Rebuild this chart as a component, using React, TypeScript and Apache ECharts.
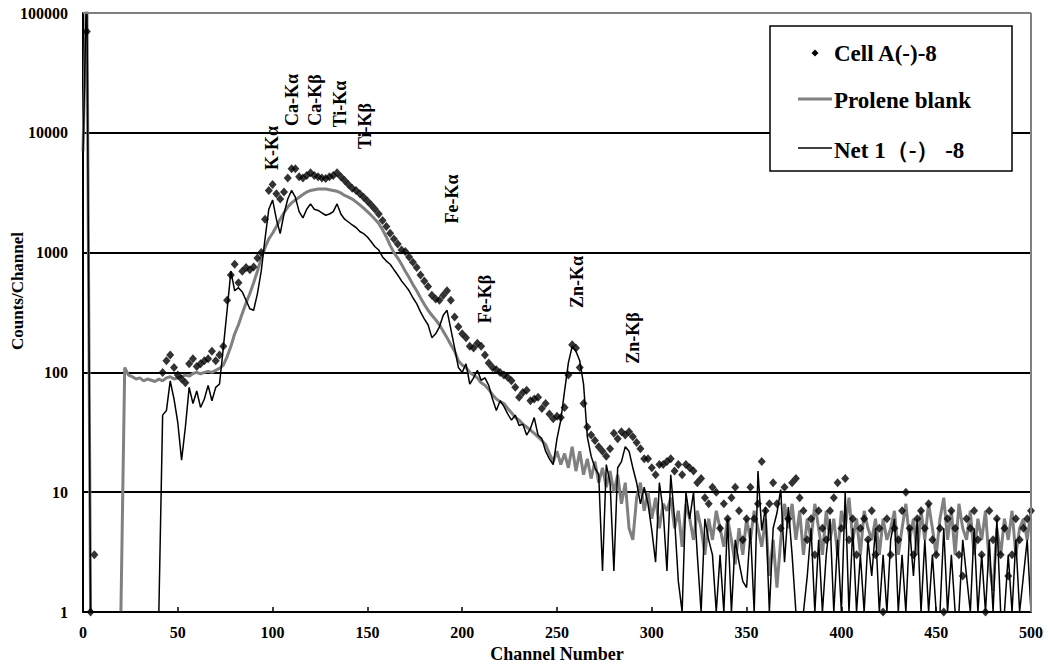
import React, { useEffect, useRef } from "react";
import * as echarts from "echarts";

// Channel step between stored values
const STEP = 2;

// Prolene blank (gray line), channels 0..500 step 2
const blank: (number | null)[] = [
  7000, 200000, 1, null, null, null, null, null, null, null,
  1, 110, 95, 92, 88, 90, 85, 88, 86, 84,
  88, 85, 90, 92, 88, 90, 92, 95, 93, 98,
  100, 97, 100, 102, 100, 104, 108, 115, 135, 165,
  210, 250, 310, 380, 455, 560, 700, 900, 1100, 1300,
  1450, 1650, 1900, 2150, 2400, 2600, 2750, 2900, 3050, 3200,
  3300, 3350, 3400, 3400, 3400, 3350, 3300, 3250, 3150, 3000,
  2900, 2800, 2650, 2500, 2350, 2200, 2050, 1900, 1750, 1550,
  1350, 1150, 1000, 900, 800, 700, 620, 540, 480, 420,
  370, 330, 300, 275, 250, 220, 195, 170, 150, 125,
  115, 110, 100, 95, 90, 82, 78, 72, 65, 60,
  57, 55, 50, 46, 42, 40, 37, 35, 33, 31,
  29, 27, 25, 21, 18, 22, 17, 21, 16, 24,
  15, 22, 14, 19, 13, 18, 12, 16, 11, 15,
  10, 14, 8, 12, 5, 4, 9, 12, 7, 10,
  6, 9, 5, 8, 7, 9, 5, 7, 3.5, 8,
  6, 4, 7, 5, 3, 6, 4, 7, 5, 3.5,
  6, 4, 2.5, 5, 3, 6, 4, 7, 5, 3.5,
  6, 2, 4, 1.6, 4, 8, 5, 8, 4, 7,
  3, 6, 4, 8, 5, 3, 7, 4, 6, 3,
  7, 5, 9, 4, 6, 3, 7, 5, 4, 6,
  3, 6, 4, 5, 7, 3, 5, 8, 4, 6,
  3, 7, 4, 8, 5, 3, 6, 9, 4, 7,
  3, 8, 5, 4, 7, 3, 6, 4, 7, 2.5,
  1.5, 5, 3, 6, 4, 7, 3, 5, 6, 4,
  7,
];

// Net 1(-)-8 (thin black line), channels 0..500 step 2
const net: (number | null)[] = [
  6500, 200000, 1, 1, 1, 1, 1, 1, 1, 1,
  1, 1, 1, 1, 1, 1, 1, 1, 1, 1,
  1, 44, 48, 85, 60, 38, 18.5, 35, 75, 55,
  70, 51, 60, 78, 58, 75, 80, 160, 330, 700,
  480, 510, 470, 400, 340, 330, 455, 700, 1300, 2300,
  2750, 1900, 1440, 2100, 2800, 3300, 2900, 2200, 1950, 2300,
  2550, 2300, 2250, 2150, 2050, 2100, 2200, 2550, 2100, 1900,
  1800, 1700, 1620, 1500, 1440, 1350, 1230, 1120, 1050, 920,
  850, 800, 720, 650, 580, 530, 480, 420, 375, 320,
  280, 250, 195, 210, 240, 300, 330, 230, 160, 110,
  100, 118, 80, 90, 104, 86, 90, 78, 60, 48,
  58, 52, 45, 40, 44, 36, 37, 30, 34, 42,
  30, 28, 22, 19, 17, 28, 40, 70, 120, 165,
  150, 125, 80, 29, 20, 16, 14, 2.2, 17, 12,
  2.2, 16, 18, 24, 22, 16, 12, 8, 11, 8,
  4.8, 2.6, 12, 7, 2.2, 14, 6, 1.8, 1, 10,
  6, 10, 3, 1, 6, 4, 3, 1, 3, 1,
  6, 1, 4, 2.6, 1.8, 1.6, 5, 1, 15, 4.8,
  7.5, 1, 5, 6.7, 10.5, 2.6, 7.5, 3, 1, 1,
  1, 2, 5, 1, 4, 1, 3, 6, 1, 4,
  1, 10, 1, 5, 1, 3, 1, 4, 2, 5,
  1, 3, 1, 4, 6, 1, 3, 1, 5, 2,
  6, 1, 4, 1, 3, 1, 1, 5, 1, 3,
  1, 1, 4, 2, 1, 5, 1, 3, 1, 4,
  1, 6, 1, 1, 3, 1, 4, 1, 2, 4,
  1,
];

// Cell A(-)-8 (black diamonds), channels 0..500 step 2
const cellA: (number | null)[] = [
  null, 70000, 1, 3, null, null, null, null, null, null,
  null, null, null, null, null, null, null, null, null, null,
  null, 100, 125, 140, 110, 95, 88, 82, 118, 130,
  112, 118, 125, 130, 150, 125, 140, 165, 400, 650,
  800, 560, 700, 750, 720, 760, 900, 1000, 1900, 3300,
  3700, 3100, 2800, 3200, 4200, 5000, 5000, 4300, 4200, 4400,
  4650, 4400, 4300, 4200, 4150, 4300, 4400, 4650, 4300, 4000,
  3700, 3450, 3300, 3100, 2900, 2700, 2500, 2300, 2100, 1850,
  1650, 1450, 1300, 1180, 1050, 1020, 920, 830, 750, 650,
  580, 520, 440, 410, 400, 440, 480, 400, 290, 240,
  210, 195, 165, 160, 175, 165, 140, 120, 110, 105,
  100, 95, 91, 85, 75, 62, 68, 71, 58, 60,
  62, 50, 55, 45, 41, 43, 42, 51, 95, 170,
  160, 110, 55, 35, 30, 27, 24, 22, 20, 23,
  31, 28, 32, 30, 32, 29, 26, 23, 19, 19,
  16, 14, 17, 17, 18, 19, 15, 17, 14, 17,
  16, 15, 12, 13, 9, 8, 11, 10, 5, 8,
  6, 9, 11, 7, 4, 6, 11, 6, 8, 18,
  7, 8, 12, 8, 5, 11, 6, 12, 13, 9,
  7, 4, 6, 3, 7, 5, 4, 7, 9, 12,
  5, 13, 4, 6, 3, 5, 6, 4, 7, 3,
  5, 1, 6, 3, 5, 4, 7, 10, 5, 3,
  6, 7, 5, 8, 4, 3, 5, 1, 6, 7,
  5, 3, 2, 6, 5, 7, 4, 3, 1, 7,
  4, 6, 3, 5, 2, 3, 6, 4, 5, 6,
  7,
];

const seriesNames = ["Cell A(-)-8", "Prolene blank", "Net 1（-） -8"];
const peakLabels = ["K-Kα", "Ca-Kα", "Ca-Kβ", "Ti-Kα", "Ti-Kβ", "Fe-Kα", "Fe-Kβ", "Zn-Kα", "Zn-Kβ"];
const xAxisTitle = "Channel Number";
const yAxisTitle = "Counts/Channel";

const FONT = "Liberation Serif, Times New Roman, serif";

export default function App() {
  const ref = useRef<HTMLDivElement>(null);

  useEffect(() => {
    document.body.style.margin = "0";
    if (!ref.current) return;
    const chart = echarts.init(ref.current, undefined, { renderer: "svg" });

    const toData = (arr: (number | null)[]) =>
      arr.map((v, i) => [i * STEP, v == null ? "-" : v]);
    const toPoints = (arr: (number | null)[]) =>
      arr.map((v, i) => [i * STEP, v]).filter((d) => d[1] != null);

    // annotation anchor positions (pixels)
    const peakPos: [number, number][] = [
      [272, 148], [292, 100], [315, 100], [340, 104], [365, 126],
      [452, 199], [485, 299], [577, 282], [633, 338],
    ];

    const txt = (size: number) => ({
      fontFamily: FONT,
      fontSize: size,
      fontWeight: "bold",
      fill: "#000",
    });

    const graphics: any[] = [
      {
        type: "line",
        z: 10,
        shape: { x1: 83, y1: 13, x2: 1031, y2: 13 },
        style: { stroke: "#808080", lineWidth: 2 },
      },
      {
        type: "line",
        z: 10,
        shape: { x1: 1031, y1: 13, x2: 1031, y2: 612 },
        style: { stroke: "#808080", lineWidth: 2 },
      },
      {
        type: "text",
        z: 20,
        x: 17,
        y: 291,
        rotation: Math.PI / 2,
        style: { text: yAxisTitle, ...txt(17), align: "center", verticalAlign: "middle" },
      },
      ...peakLabels.map((t, i) => ({
        type: "text",
        z: 20,
        x: peakPos[i][0],
        y: peakPos[i][1],
        rotation: Math.PI / 2,
        style: {
          text: t,
          ...txt(18),
          align: "center",
          verticalAlign: "middle",
        },
      })),
      {
        type: "group",
        z: 30,
        children: [
          {
            type: "rect",
            z: 30,
            shape: { x: 770, y: 26, width: 242, height: 145 },
            style: { fill: "#fff", stroke: "#000", lineWidth: 1.5 },
          },
          {
            type: "polygon",
            z: 31,
            shape: { points: [[815, 49.5], [818.5, 53], [815, 56.5], [811.5, 53]] },
            style: { fill: "#000" },
          },
          {
            type: "text",
            z: 31,
            x: 834,
            y: 53,
            style: { text: seriesNames[0], ...txt(23), verticalAlign: "middle" },
          },
          {
            type: "line",
            z: 31,
            shape: { x1: 798, y1: 99, x2: 832, y2: 99 },
            style: { stroke: "#808080", lineWidth: 3 },
          },
          {
            type: "text",
            z: 31,
            x: 834,
            y: 100,
            style: { text: seriesNames[1], ...txt(23), verticalAlign: "middle" },
          },
          {
            type: "line",
            z: 31,
            shape: { x1: 798, y1: 148, x2: 832, y2: 148 },
            style: { stroke: "#000", lineWidth: 1.5 },
          },
          {
            type: "text",
            z: 31,
            x: 834,
            y: 150,
            style: { text: seriesNames[2], ...txt(23), verticalAlign: "middle" },
          },
        ],
      },
    ];

    chart.setOption({
      animation: false,
      backgroundColor: "#fff",
      grid: {
        left: 83,
        right: 19,
        top: 13,
        bottom: 60,
        show: false,
        containLabel: false,
        outerBoundsMode: "none",
      },
      xAxis: {
        type: "value",
        min: 0,
        max: 500,
        interval: 50,
        axisLine: { show: true, onZero: false, lineStyle: { color: "#000", width: 2 } },
        axisTick: { show: true, inside: true, length: 5, lineStyle: { color: "#000", width: 1.5 } },
        axisLabel: { color: "#000", fontFamily: FONT, fontWeight: "bold", fontSize: 16, margin: 12 },
        splitLine: { show: false },
        name: xAxisTitle,
        nameLocation: "middle",
        nameGap: 33,
        nameTextStyle: { color: "#000", fontFamily: FONT, fontWeight: "bold", fontSize: 18 },
      },
      yAxis: {
        type: "log",
        logBase: 10,
        min: 1,
        max: 100000,
        axisLine: { show: true, onZero: false, lineStyle: { color: "#000", width: 2 } },
        axisTick: { show: true, inside: true, length: 5, lineStyle: { color: "#000", width: 1.5 } },
        axisLabel: {
          color: "#000",
          fontFamily: FONT,
          fontWeight: "bold",
          fontSize: 16,
          margin: 15,
          formatter: (v: number) => String(Math.round(v)),
        },
        splitLine: { show: true, lineStyle: { color: "#000", width: 2 } },
        minorTick: { show: false },
      },
      series: [
        {
          name: seriesNames[1],
          type: "line",
          data: toData(blank),
          symbol: "none",
          connectNulls: false,
          clip: true,
          lineStyle: { color: "#808080", width: 3 },
          z: 2,
        },
        {
          name: seriesNames[2],
          type: "line",
          data: toData(net),
          symbol: "none",
          clip: true,
          lineStyle: { color: "#000", width: 1.5 },
          z: 3,
        },
        {
          name: seriesNames[0],
          type: "scatter",
          data: toPoints(cellA),
          symbol: "diamond",
          symbolSize: [8, 9],
          itemStyle: { color: "#000" },
          z: 4,
        },
      ],
      graphic: graphics,
    });

    return () => chart.dispose();
  }, []);

  return <div ref={ref} style={{ width: 1050, height: 672 }} />;
}
